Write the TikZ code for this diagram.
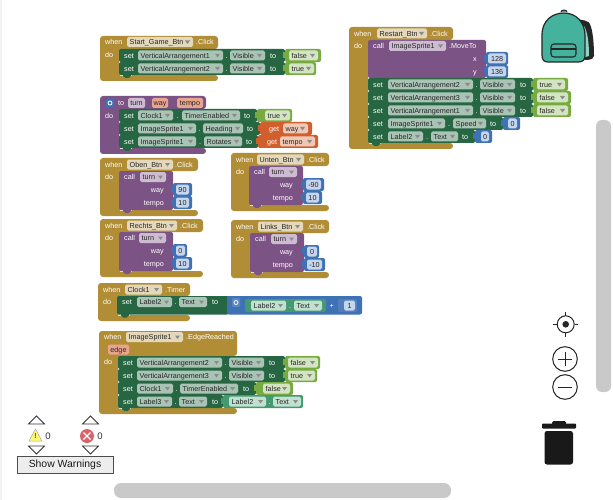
\documentclass[tikz,border=0pt]{standalone}
\usepackage{fontspec}
\setmainfont{Liberation Sans}
\definecolor{gold}{HTML}{B18E35}
\definecolor{goldp}{HTML}{E3D8BC}
\definecolor{dkgreen}{HTML}{266643}
\definecolor{dkgreenp}{HTML}{A9C4B5}
\definecolor{midgreen}{HTML}{439970}
\definecolor{midgreenp}{HTML}{C2E0D0}
\definecolor{lgreen}{HTML}{77AB41}
\definecolor{lgreenp}{HTML}{D3E4C2}
\definecolor{purp}{HTML}{7C5385}
\definecolor{purpp}{HTML}{CDBBD2}
\definecolor{blu}{HTML}{3F71B5}
\definecolor{blup}{HTML}{C5D5EC}
\definecolor{orng}{HTML}{D05F2D}
\definecolor{orngp}{HTML}{F0C8B6}
\definecolor{salm}{HTML}{E9A48D}
\definecolor{teal2}{HTML}{45B29D}
\definecolor{scrollc}{HTML}{C9C9C9}
\definecolor{errred}{HTML}{DB6268}
\tikzset{
  pillbox/.style={rounded corners=1.6pt,draw=none},
  blockbox/.style={rounded corners=2pt,draw=none},
  lightlabel/.style={text=white,font=\fontsize{7.2}{8}\selectfont,inner sep=0pt},
  darklabel/.style={text=black!85,font=\fontsize{7.2}{8}\selectfont,inner sep=0pt},
  iconline/.style={draw=black!85,line width=1pt},
  navtri/.style={draw=black!80,line width=.8pt,line join=miter},
}
% x0 x1 ycentre text fill : pill with drop-down mark
\newcommand\Dd[5]{%
  \fill[pillbox,#5] (#1,#3-5) rectangle (#2,#3+5);
  \node[darklabel,anchor=base west] at (#1+2.5,#3+2.6) {#4};
  \fill[black!45] (#2-8,#3-1.5) -- (#2-3,#3-1.5) -- (#2-5.5,#3+2) -- cycle;
}
% x0 x1 ycentre text fill : pill, text centred
\newcommand\Pn[5]{%
  \fill[pillbox,#5] (#1,#3-5) rectangle (#2,#3+5);
  \node[darklabel,anchor=base] at ({(#1+#2)/2},#3+2.6) {#4};
}
% text, left x or right x
\newcommand\Tl[3]{\node[lightlabel,anchor=base west] at (#1,#2+2.6) {#3};}
\newcommand\Tr[3]{\node[lightlabel,anchor=base east] at (#1,#2+2.6) {#3};}
% x0 x1 ycentre fill
\newcommand\Br[4]{\fill[blockbox,#4] (#1,#3-6.5) rectangle (#2,#3+6.5);}
% value block with its socket tab: x0 x1 ycentre fill
\newcommand\Vb[4]{%
  \Br{#1}{#2}{#3}{#4}
  \fill[#4] (#1-2.2,#3-3.2) rectangle (#1+1,#3+2.2);
}
% C-shaped block: x0 xh xin xb y0 yh ybar y1 colour
\newcommand\Cb[9]{%
  \fill[rounded corners=3pt,#9] (#1,#5) -- (#2,#5) -- (#2,#6) -- (#3,#6) -- (#3,#7) -- (#4,#7) -- (#4,#8) -- (#1,#8) -- cycle;
}
% bottom notch under a statement row: x ybottom colour
\newcommand\Nt[3]{%
  \draw[white!85!black,line width=.7pt] (#1+1,#2+.6) -- (#1+13,#2+.6);
  \fill[#3] (#1+4,#2-.5) -- (#1+4,#2+1) -- (#1+6.5,#2+3) -- (#1+9.5,#2+3) -- (#1+12,#2+1) -- (#1+12,#2-.5) -- cycle;
}
% dot separator
\newcommand\Dt[2]{\node[lightlabel,anchor=base] at ({#1},{#2+2.6}) {.};}
% number value block: x0 x1 p0 p1 y text
\newcommand\Nm[6]{%
  \Vb{#1}{#2}{#5}{blu}
  \Pn{#3}{#4}{#5}{#6}{blup}
}
\newcommand\NmB[6]{\Nm{#1}{#2}{#3}{#4}{#6}{#5}}
% boolean
\newcommand\Bo[6]{%
  \Vb{#1}{#2}{#5}{lgreen}
  \Dd{#3}{#4}{#5}{#6}{lgreenp}
}
% x0 x1 y  p0 p1 text  q0 q1 text
\newcommand\Setrow[9]{%
  \Br{#1}{#2}{#3}{dkgreen}
  \Tl{#1+5}{#3}{set}
  \Dd{#4}{#5}{#3}{#6}{dkgreenp}
  \Dt{(#5+#7)/2}{#3}
  \Dd{#7}{#8}{#3}{#9}{dkgreenp}
}
% #1 inner x0, #2 inner x1, #3 y top, #4,#5 turn pill, #6 label right, #7 way value, #8 tempo value
\newcommand\Turn[8]{%
  \fill[blockbox,purp] (#1,#3) rectangle (#2,#3+39);
  \Nt{#1}{#3+39}{purp}
  \Tl{#1+5}{#3+6}{call}
  \Dd{#4}{#5}{#3+6}{turn}{purpp}
  \Tr{#6}{#3+18.5}{way}
  \Tr{#6}{#3+31.5}{tempo}
  \NmB{#2}#7{#3+18.5}
  \NmB{#2}#8{#3+31.5}
}
\begin{document}
\begin{tikzpicture}[x=1pt,y=-1pt]
\useasboundingbox (0,0) rectangle (613,500);
\fill[white] (0,0) rectangle (613,500);
\fill[black!5] (0,0) rectangle (2,500);

% ---------- Start_Game_Btn
\Cb{100}{218}{119}{218}{36}{49}{75}{81}{gold}
\Tl{105}{42}{when}
\Dd{127}{193}{42}{Start\_Game\_Btn}{goldp}
\Tl{196}{42}{.Click}
\Tl{105}{55}{do}
\Setrow{119}{285}{55.5}{138}{223}{VerticalArrangement1}{230}{265}{Visible}
\Tl{270}{55.5}{to}
\Bo{285}{321}{289}{318}{55.5}{false}
\Setrow{119}{285}{68.5}{138}{223}{VerticalArrangement2}{230}{265}{Visible}
\Tl{270}{68.5}{to}
\Bo{285}{316}{289}{314}{68.5}{true}
\Nt{119}{75}{dkgreen}

% ---------- procedure turn
\Cb{100}{206}{119}{206}{96}{109}{148}{154}{purp}
\fill[blu,rounded corners=1pt] (106,98.5) rectangle (114,107.5);
\draw[white,line width=.8pt] (110,103) circle (2pt);
\Tl{118}{103}{to}
\Pn{128}{145}{103}{turn}{purpp}
\Pn{152}{168}{103}{way}{salm}
\Pn{177}{203}{103}{tempo}{salm}
\Tl{105}{115.5}{do}
\Setrow{119}{257}{115.5}{138}{173}{Clock1}{182}{240}{TimerEnabled}
\Tl{244}{115.5}{to}
\Bo{257}{292}{265}{290}{115.5}{true}
\Setrow{119}{260}{128.5}{138}{196}{ImageSprite1}{203}{243}{Heading}
\Tl{247}{128.5}{to}
\Vb{260}{312}{128.5}{orng}
\Tl{269}{128.5}{get}
\Dd{283}{308}{128.5}{way}{orngp}
\Setrow{119}{258}{141.5}{138}{196}{ImageSprite1}{204}{242}{Rotates}
\Tl{246}{141.5}{to}
\Vb{258}{318}{141.5}{orng}
\Tl{267}{141.5}{get}
\Dd{280}{315}{141.5}{tempo}{orngp}
\Nt{119}{148}{dkgreen}

% ---------- Oben
\Cb{100}{198}{119}{198}{158}{171}{210}{216}{gold}
\Tl{105}{164.5}{when}
\Dd{127}{173}{164.5}{Oben\_Btn}{goldp}
\Tl{175}{164.5}{.Click}
\Tl{105}{177}{do}
\Turn{119}{173}{171}{140}{166}{164}{{192}{176}{189}{90}}{{192}{176}{189}{10}}

% ---------- Unten
\Cb{231}{329}{249}{329}{153}{166}{205}{211}{gold}
\Tl{236}{159.5}{when}
\Dd{257}{304}{159.5}{Unten\_Btn}{goldp}
\Tl{307}{159.5}{.Click}
\Tl{236}{172}{do}
\Turn{249}{303}{166}{269}{297}{293}{{324}{306}{321}{-90}}{{322}{306}{319}{10}}

% ---------- Rechts
\Cb{100}{203}{119}{203}{219}{232}{271}{277}{gold}
\Tl{105}{225.5}{when}
\Dd{127}{177}{225.5}{Rechts\_Btn}{goldp}
\Tl{180}{225.5}{.Click}
\Tl{105}{238}{do}
\Turn{119}{173}{232}{139}{166}{164}{{187}{176}{185}{0}}{{192}{176}{189}{10}}

% ---------- Links
\Cb{231}{329}{250}{329}{220}{233}{272}{278}{gold}
\Tl{236}{226.5}{when}
\Dd{258}{303}{226.5}{Links\_Btn}{goldp}
\Tl{307}{226.5}{.Click}
\Tl{236}{239}{do}
\Turn{250}{304}{233}{271}{297}{293}{{319}{307}{317}{0}}{{325}{307}{322}{-10}}

% ---------- Clock1.Timer
\Cb{98}{190}{117}{190}{283}{296}{315}{321}{gold}
\Tl{103}{289.5}{when}
\Dd{125}{162}{289.5}{Clock1}{goldp}
\Tl{165}{289.5}{.Timer}
\Tl{103}{302}{do}
\fill[blockbox,dkgreen] (117,296) rectangle (229,314.5);
\Tl{122}{302}{set}
\Dd{137}{172}{302}{Label2}{dkgreenp}
\Dt{175.5}{302}
\Dd{179}{207}{302}{Text}{dkgreenp}
\Tl{212}{302}{to}
\fill[blockbox,blu] (227,296) rectangle (362,314.5);
\fill[rounded corners=1pt,white!15!blu] (232,298) rectangle (240,307);
\draw[white,line width=.8pt] (236,302.5) circle (2pt);
\fill[blockbox,midgreen] (245,299) rectangle (326,312);
\Dd{251}{286}{305.5}{Label2}{midgreenp}
\Dt{290}{305.5}
\Dd{294}{322}{305.5}{Text}{midgreenp}
\Tl{329.5}{305.5}{+}
\fill[blockbox,white!10!blu] (338,299) rectangle (357,312);
\Pn{344}{355}{305.5}{1}{blup}
\Nt{117}{314.5}{dkgreen}

% ---------- EdgeReached
\Cb{99}{237}{118}{237}{331}{356}{408}{414}{gold}
\Tl{104}{337}{when}
\Dd{126}{183}{337}{ImageSprite1}{goldp}
\Tl{186}{337}{.EdgeReached}
\Pn{108}{129}{349.5}{edge}{salm}
\Tl{104}{362}{do}
\Setrow{118}{285}{362.5}{137}{222}{VerticalArrangement2}{229}{264}{Visible}
\Tl{269}{362.5}{to}
\Bo{285}{320}{288}{318}{362.5}{false}
\Setrow{118}{285}{375.5}{137}{222}{VerticalArrangement3}{229}{264}{Visible}
\Tl{269}{375.5}{to}
\Bo{285}{317}{288}{315}{375.5}{true}
\Setrow{118}{256}{388.5}{137}{173}{Clock1}{180}{238}{TimerEnabled}
\Tl{243}{388.5}{to}
\Bo{256}{293}{263}{290}{388.5}{false}
\Setrow{118}{223}{401.5}{137}{172}{Label3}{179}{207}{Text}
\Tl{212}{401.5}{to}
\Vb{223}{303}{401.5}{midgreen}
\Dd{229}{266}{401.5}{Label2}{midgreenp}
\Dt{269.5}{401.5}
\Dd{273}{301}{401.5}{Text}{midgreenp}
\Nt{118}{408}{dkgreen}

% ---------- Restart
\Cb{349}{453}{368}{453}{27}{40}{143}{149}{gold}
\Tl{354}{33.5}{when}
\Dd{377}{427}{33.5}{Restart\_Btn}{goldp}
\Tl{430}{33.5}{.Click}
\Tl{354}{46}{do}
\fill[blockbox,purp] (368,40) rectangle (486,78);
\Tl{373}{46}{call}
\Dd{389}{446}{46}{ImageSprite1}{purpp}
\Tl{449}{46}{.MoveTo}
\Tr{477}{58.5}{x}
\Tr{477}{71.5}{y}
\Nm{486}{508}{488}{506}{58.5}{128}
\Nm{486}{508}{488}{506}{71.5}{136}
\Setrow{368}{533}{84.5}{388}{473}{VerticalArrangement2}{480}{515}{Visible}
\Tl{520}{84.5}{to}
\Bo{533}{568}{537}{565}{84.5}{true}
\Setrow{368}{533}{97.5}{388}{473}{VerticalArrangement3}{480}{515}{Visible}
\Tl{520}{97.5}{to}
\Bo{533}{571}{537}{568}{97.5}{false}
\Setrow{368}{533}{110.5}{388}{473}{VerticalArrangement1}{480}{515}{Visible}
\Tl{520}{110.5}{to}
\Bo{533}{571}{537}{568}{110.5}{false}
\Setrow{368}{503}{123.5}{388}{445}{ImageSprite1}{453}{486}{Speed}
\Tl{490}{123.5}{to}
\Nm{503}{520}{508}{517}{123.5}{0}
\Setrow{368}{475}{136.5}{388}{423}{Label2}{431}{458}{Text}
\Tl{462}{136.5}{to}
\Nm{475}{492}{481}{489}{136.5}{0}
\Nt{368}{143}{dkgreen}

% ---------- backpack
\fill[black!85,rounded corners=2pt] (577,19) -- (587,21) .. controls (592,25) and (594,40) .. (594,58) -- (589,60) -- (583,60) -- cycle;
\fill[teal2!60!white] (584,26) .. controls (588,32) and (589,45) .. (589,56) -- (585,57) -- cycle;
\draw[black!85,line width=1pt,fill=teal2] (561,12) .. controls (561,9.5) and (567,9.5) .. (567,12);
\draw[black!85,line width=1.2pt,fill=teal2] (548,62) .. controls (544,62) and (542,60) .. (542,55) -- (542,35) .. controls (542,20) and (553,13) .. (564,13) .. controls (576,13) and (585,22) .. (585,36) -- (585,55) .. controls (585,60) and (583,62) .. (578,62) -- cycle;
\draw[black!85,line width=1.1pt,rounded corners=3pt] (551,44) rectangle (576,57);
\draw[black!85,line width=1.1pt] (551,49) -- (576,49);

% ---------- scroll bars
\fill[scrollc,rounded corners=6pt] (596,120) rectangle (611,392);
\fill[scrollc,rounded corners=7pt] (114,483) rectangle (451,498);

% ---------- workspace controls
\draw[iconline] (565.7,324.3) circle (8.5);
\fill[black!85] (565.7,324.3) circle (3.3);
\draw[iconline] (565.7,312) -- (565.7,316) (565.7,332.5) -- (565.7,337) (553,324.3) -- (557,324.3) (574.5,324.3) -- (578,324.3);
\draw[iconline] (565,359) circle (12.3);
\draw[iconline] (558,359) -- (572,359) (565,352) -- (565,366);
\draw[iconline] (565,387) circle (12.3);
\draw[iconline] (558,387) -- (572,387);
\fill[black!90,rounded corners=.8pt] (542,423.5) rectangle (576,428.5);
\fill[black!90,rounded corners=1.5pt] (552,421) rectangle (566,425);
\fill[black!90,rounded corners=2.5pt] (544.5,431) rectangle (573,464.5);

% ---------- warning indicator
\draw[navtri] (28.5,424) -- (36.5,416) -- (44.5,424) -- cycle;
\draw[navtri] (28.5,446) -- (36.5,454) -- (44.5,446) -- cycle;
\draw[navtri] (82.5,424) -- (90.5,416) -- (98.5,424) -- cycle;
\draw[navtri] (82.5,446) -- (90.5,454) -- (98.5,446) -- cycle;
\draw[draw=black!35,fill=yellow!55!white,line width=.5pt,line join=round] (29,441) -- (35.5,429) -- (42,441) -- cycle;
\node[text=black!70,font=\bfseries\fontsize{7}{8}\selectfont,inner sep=0pt] at (35.5,436.5) {!};
\node[text=black!80,font=\fontsize{9.5}{10}\selectfont,inner sep=0pt,anchor=base] at (48,439.5) {0};
\fill[errred] (87,436) circle (7);
\draw[white,line width=1.4pt] (83.5,432.5) -- (90.5,439.5) (83.5,439.5) -- (90.5,432.5);
\node[text=black!80,font=\fontsize{9.5}{10}\selectfont,inner sep=0pt,anchor=base] at (100,439.5) {0};
\node[draw=black!70,fill=black!7,line width=.8pt,minimum width=96pt,minimum height=17pt,inner sep=0pt,font=\fontsize{10.4}{12}\selectfont,text=black!90] (warn) at (65,464.5) {Show Warnings};
\end{tikzpicture}
\end{document}
